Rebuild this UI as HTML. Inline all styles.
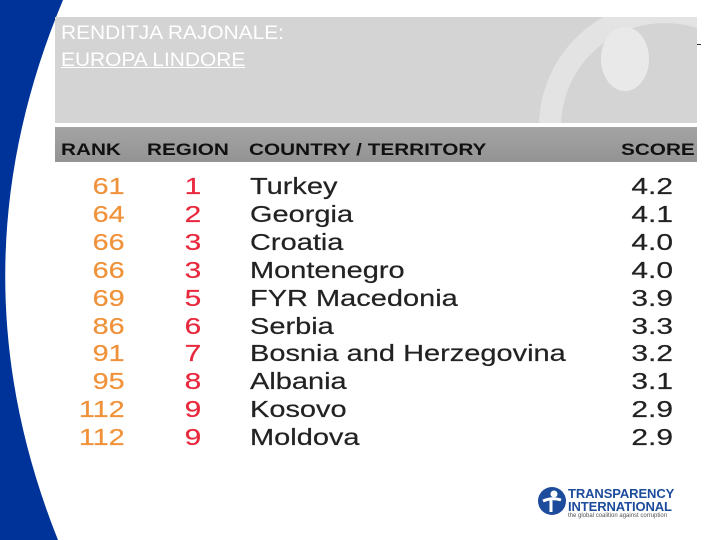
<!DOCTYPE html>
<html><head><meta charset="utf-8"><style>
body{margin:0;width:720px;height:540px;background:#fff;position:relative;overflow:hidden;font-family:"Liberation Sans",sans-serif}
.a{position:absolute}
.row{position:absolute;left:0;width:720px;height:28px;font-size:23px;line-height:28px;-webkit-text-stroke:0.2px}
.row span{position:absolute;display:inline-block}
.rk{color:#f0923a;right:595px;transform:scaleX(1.25);transform-origin:right}
.rg{color:#e8283c;left:183px;width:20px;text-align:center;transform:scaleX(1.3)}
.ct{color:#222;left:250px;transform:scaleX(1.26);transform-origin:left}
.sc{color:#222;right:47px;transform:scaleX(1.3);transform-origin:right}
.h{position:absolute;display:inline-block;transform:scaleX(1.22);transform-origin:left}
</style></head><body>
<svg class="a" style="left:0;top:0" width="720" height="540"><path d="M0 0 L63 0 Q-50 270 58 540 L0 540 Z" fill="#003399"/></svg>
<div class="a" style="left:55px;top:17px;width:642px;height:106px;background:#d4d4d4;overflow:hidden">
 <svg class="a" style="left:460px;top:0" width="182" height="106"><circle cx="150" cy="110" r="115" fill="none" stroke="#e3e3e3" stroke-width="22"/><ellipse cx="110" cy="42" rx="24" ry="32" fill="#e9e9e9"/></svg>
 <div class="a" style="left:6px;top:3px;color:#fff;font-size:19px;line-height:27px;transform:scaleX(1.1);transform-origin:left">RENDITJA RAJONALE:<br><u>EUROPA LINDORE</u></div>
</div>
<div class="a" style="left:697px;top:44px;width:4px;height:1px;background:#333"></div>
<div class="a" style="left:55px;top:127px;width:642px;height:35px;background:linear-gradient(#a4a4a4,#939393);font-weight:bold;font-size:17px;line-height:46px;color:#111">
 <span class="h" style="left:6px">RANK</span><span class="h" style="left:92px">REGION</span><span class="h" style="left:194px">COUNTRY / TERRITORY</span><span class="h" style="left:566px">SCORE</span>
</div>
<div id="rows"></div>
<div class="a" style="left:537px;top:486px;width:150px;height:34px">
 <svg class="a" style="left:0;top:0" width="30" height="30"><circle cx="15" cy="15" r="14" fill="#1d4c9c"/><circle cx="17" cy="8" r="3.5" fill="#fff"/><path d="M6 15 Q15 11 24 14 M14 13 L14 26" stroke="#fff" stroke-width="3" fill="none"/></svg>
 <div class="a" style="left:31px;top:1px;color:#1d4c9c;font-size:13px;line-height:13px;font-weight:bold;letter-spacing:-0.1px">TRANSPARENCY<br>INTERNATIONAL</div>
 <div class="a" style="left:31px;top:27px;color:#555;font-size:6px">the global coalition against corruption</div>
</div>
<script>
const ranks=["61","64","66","66","69","86","91","95","112","112"];
const regions=["1","2","3","3","5","6","7","8","9","9"];
const countries=["Turkey","Georgia","Croatia","Montenegro","FYR Macedonia","Serbia","Bosnia and Herzegovina","Albania","Kosovo","Moldova"];
const scores=["4.2","4.1","4.0","4.0","3.9","3.3","3.2","3.1","2.9","2.9"];
const c=document.getElementById('rows');
ranks.forEach((r,i)=>{
 const d=document.createElement('div');d.className='row';d.style.top=(172+i*27.9)+'px';
 
 
 d.innerHTML='<span class="rk">'+r+'</span><span class="rg">'+regions[i]+'</span><span class="ct">'+countries[i]+'</span><span class="sc">'+scores[i]+'</span>';
 c.appendChild(d);
});
</script>
</body></html>
